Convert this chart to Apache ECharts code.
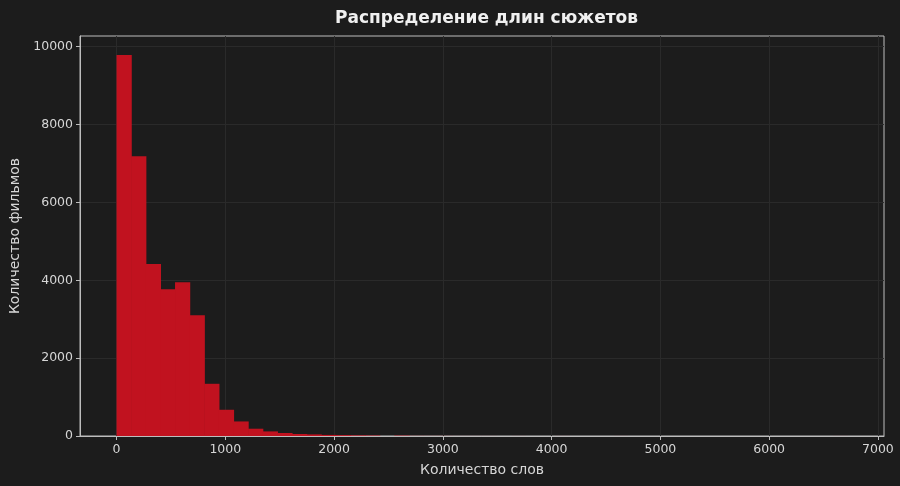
<!DOCTYPE html>
<html>
<head>
<meta charset="utf-8">
<script src="https://cdn.jsdelivr.net/npm/echarts@6/dist/echarts.min.js"></script>
<style>
html,body{margin:0;padding:0;background:#1c1c1c;}
#c{width:900px;height:486px;}
</style>
</head>
<body>
<div id="c"></div>
<script>
// Histogram of plot lengths (words), 50 equal bins from 0 to ~6720
const binStart = 0;
const binWidth = 134.4;
const counts = [
  9785, 7187, 4418, 3769, 3949, 3103, 1341, 674, 374, 187,
  118, 77, 51, 41, 28, 22, 16, 12, 0, 10,
  3, 2, 2, 1, 1, 1, 0, 1, 0, 0,
  1, 0, 0, 0, 1, 0, 0, 0, 0, 0,
  0, 0, 0, 0, 0, 0, 0, 0, 0, 1
];
const xTicks = [0, 1000, 2000, 3000, 4000, 5000, 6000, 7000];
const yTicks = [0, 2000, 4000, 6000, 8000, 10000];
const titleText = 'Распределение длин сюжетов';
const xName = 'Количество слов';
const yName = 'Количество фильмов';

const data = counts.map((c, i) => [binStart + i * binWidth, binStart + (i + 1) * binWidth, c]);
const xMax = binStart + counts.length * binWidth;
const xPad = 0.05 * (xMax - binStart);
const yMax = Math.max.apply(null, counts) * 1.05;

const txt = '#d6d6d6';
const font = 'DejaVu Sans';
const plain = v => String(Math.round(v));
const gridL = 79, gridR = 16;
const chart = echarts.init(document.getElementById('c'), null, {renderer: 'canvas'});
chart.setOption({
  backgroundColor: '#1c1c1c',
  animation: false,
  title: {
    text: titleText, left: (gridL + 900 - gridR) / 2, textAlign: 'center', top: 5,
    textStyle: {color: '#f0f0f0', fontFamily: font, fontWeight: 'bold', fontSize: 17}
  },
  grid: {
    left: gridL, right: gridR, top: 36, bottom: 50,
    show: true, borderColor: '#bdbdbd', borderWidth: 1, backgroundColor: '#1c1c1c'
  },
  xAxis: {
    type: 'value', min: binStart - xPad, max: xMax + xPad,
    name: xName, nameLocation: 'middle', nameGap: 27,
    nameTextStyle: {color: txt, fontFamily: font, fontSize: 14},
    axisLine: {show: true, onZero: false, lineStyle: {color: '#bdbdbd'}},
    axisTick: {show: true, length: 4, lineStyle: {color: '#bdbdbd'}, customValues: xTicks},
    axisLabel: {color: txt, fontFamily: font, fontSize: 12.5, margin: 7, customValues: xTicks, formatter: plain},
    splitLine: {show: true, lineStyle: {color: '#2a2a2a', width: 1}}
  },
  yAxis: {
    type: 'value', min: 0, max: yMax, interval: 2000,
    name: yName, nameLocation: 'middle', nameGap: 58,
    nameTextStyle: {color: txt, fontFamily: font, fontSize: 14},
    axisLine: {show: true, onZero: false, lineStyle: {color: '#bdbdbd'}},
    axisTick: {show: true, length: 4, lineStyle: {color: '#bdbdbd'}, customValues: yTicks},
    axisLabel: {color: txt, fontFamily: font, fontSize: 12.5, margin: 7, customValues: yTicks, formatter: plain},
    splitLine: {show: true, lineStyle: {color: '#2a2a2a', width: 1}}
  },
  series: [{
    type: 'custom',
    data: data,
    encode: {x: [0, 1], y: 2},
    renderItem: function (params, api) {
      if (api.value(2) <= 0) return null;
      const p0 = api.coord([api.value(0), api.value(2)]);
      const p1 = api.coord([api.value(1), 0]);
      return {
        type: 'rect',
        shape: {x: p0[0], y: p0[1], width: p1[0] - p0[0] + 0.6, height: p1[1] - p0[1]},
        style: {fill: '#c1121f'}
      };
    }
  }]
});
</script>
</body>
</html>
